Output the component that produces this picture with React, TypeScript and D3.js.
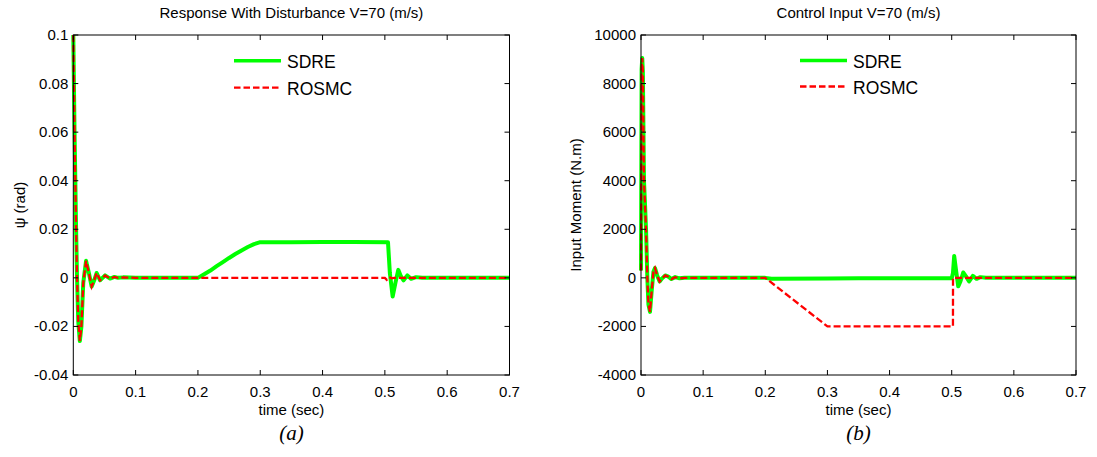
import React from "react";
import * as d3 from "d3";

// ---------- Data ----------
const TIME_TICKS = [0, 0.1, 0.2, 0.3, 0.4, 0.5, 0.6, 0.7];
const TIME_TICK_LABELS = ["0", "0.1", "0.2", "0.3", "0.4", "0.5", "0.6", "0.7"];
const PSI_TICKS = [-0.04, -0.02, 0, 0.02, 0.04, 0.06, 0.08, 0.1];
const PSI_TICK_LABELS = ["-0.04", "-0.02", "0", "0.02", "0.04", "0.06", "0.08", "0.1"];
const MOMENT_TICKS = [-4000, -2000, 0, 2000, 4000, 6000, 8000, 10000];
const MOMENT_TICK_LABELS = ["-4000", "-2000", "0", "2000", "4000", "6000", "8000", "10000"];

// (a) psi response, SDRE
const psiSdreT = [0, 0.002, 0.0045, 0.006, 0.008, 0.0105, 0.013, 0.016, 0.0205, 0.025, 0.0295, 0.0335, 0.0375, 0.043, 0.051, 0.059, 0.066, 0.072, 0.08, 0.1, 0.2, 0.21, 0.22, 0.23, 0.24, 0.25, 0.26, 0.27, 0.28, 0.29, 0.3, 0.35, 0.4, 0.45, 0.505, 0.508, 0.5125, 0.517, 0.5215, 0.526, 0.53, 0.536, 0.542, 0.55, 0.56, 0.6, 0.65, 0.7];
const psiSdreV = [0.1, 0.06, 0.02, 0, -0.018, -0.026, -0.02, -0.002, 0.007, 0.002, -0.0036, -0.001, 0.002, -0.001, 0.001, -0.0003, 0.0004, 0, 0.0002, 0, 0, 0.0015, 0.003, 0.0048, 0.0065, 0.0082, 0.0098, 0.0113, 0.0127, 0.0139, 0.0147, 0.0147, 0.0148, 0.0148, 0.0147, 0.002, -0.0077, -0.002, 0.0033, 0.0005, -0.001, 0.001, -0.0004, 0.0003, 0, 0, 0, 0];
// (a) psi response, ROSMC
const psiRosmcT = [0, 0.002, 0.0045, 0.006, 0.008, 0.0105, 0.013, 0.016, 0.0205, 0.025, 0.0295, 0.0335, 0.0375, 0.043, 0.051, 0.059, 0.066, 0.072, 0.08, 0.1, 0.2, 0.3, 0.4, 0.5, 0.503, 0.507, 0.511, 0.515, 0.6, 0.7];
const psiRosmcV = [0.1, 0.06, 0.02, 0, -0.018, -0.026, -0.02, -0.002, 0.007, 0.002, -0.0036, -0.001, 0.002, -0.001, 0.001, -0.0003, 0.0004, 0, 0.0002, 0, 0, 0, 0, 0, -0.0008, 0.0003, -0.0002, 0, 0, 0];

// (b) control input, SDRE
const momSdreT = [0, 0.001, 0.002, 0.003, 0.0048, 0.0065, 0.0081, 0.0102, 0.012, 0.0145, 0.017, 0.02, 0.0225, 0.026, 0.03, 0.034, 0.039, 0.044, 0.049, 0.055, 0.062, 0.07, 0.1, 0.2, 0.21, 0.3, 0.35, 0.5, 0.502, 0.504, 0.507, 0.5105, 0.514, 0.5185, 0.523, 0.528, 0.534, 0.54, 0.546, 0.555, 0.57, 0.7];
const momSdreV = [300, 8600, 9050, 8500, 4000, 3000, 2000, 0, -1100, -1400, -600, 250, 400, 100, -150, -20, 100, 50, -50, 30, -20, 0, 0, 0, -40, -30, -20, -20, 200, 900, 300, -350, -150, 220, 60, -150, 80, -40, 30, 0, 0, 0];
// (b) control input, ROSMC
const momRosmcT = [0, 0.001, 0.002, 0.003, 0.0048, 0.0065, 0.0081, 0.0102, 0.012, 0.0145, 0.017, 0.02, 0.0225, 0.026, 0.03, 0.034, 0.039, 0.044, 0.049, 0.055, 0.062, 0.07, 0.1, 0.2, 0.3, 0.4, 0.502, 0.5021, 0.6, 0.7];
const momRosmcV = [300, 8600, 9050, 8500, 4000, 3000, 2000, 0, -1100, -1400, -600, 250, 400, 100, -150, -20, 100, 50, -50, 30, -20, 0, 0, 0, -2000, -2000, -2000, 0, 0, 0];

const SERIES_NAMES = ["SDRE", "ROSMC"];
const TITLES = ["Response With Disturbance V=70 (m/s)", "Control Input V=70 (m/s)"];
const Y_LABELS = ["\u03C8 (rad)", "Input Moment (N.m)"];
const X_LABEL = "time (sec)";
const SUB_LABELS = ["(a)", "(b)"];

const GREEN = "#00ff00";
const RED = "#ff0000";
const FONT = "'Liberation Sans', Arial, Helvetica, sans-serif";

type Pt = [number, number];
const zip = (t: number[], v: number[]): Pt[] => t.map((x, i) => [x, v[i]]);

interface PanelProps {
  x0: number; x1: number; y0: number; y1: number;
  yDomain: [number, number];
  yTicks: number[]; yTickLabels: string[];
  sdre: Pt[]; rosmc: Pt[];
  title: string; yLabel: string; yLabelX: number; sub: string;
  legendX: number; legendY: number; legendGap: number;
}

function Panel(p: PanelProps) {
  const x = d3.scaleLinear().domain([0, 0.7]).range([p.x0, p.x1]);
  const y = d3.scaleLinear().domain(p.yDomain).range([p.y1, p.y0]);
  const line = d3.line<Pt>().x((d) => x(d[0])).y((d) => y(d[1]));
  const cx = (p.x0 + p.x1) / 2;
  const cy = (p.y0 + p.y1) / 2;
  const tk = 5;
  return (
    <g fontFamily={FONT} fill="#000">
      <text x={cx} y={18} textAnchor="middle" fontSize={15}>{p.title}</text>
      <defs>
        <clipPath id={"clip" + p.sub}>
          <rect x={p.x0} y={p.y0 - 2} width={p.x1 - p.x0} height={p.y1 - p.y0 + 4} />
        </clipPath>
      </defs>
      <g clipPath={`url(#clip${p.sub})`}>
        <path d={line(p.sdre) || ""} fill="none" stroke={GREEN} strokeWidth={4} strokeLinejoin="round" />
        <path d={line(p.rosmc) || ""} fill="none" stroke={RED} strokeWidth={2.3} strokeDasharray="7,3" />
      </g>
      <rect x={p.x0} y={p.y0} width={p.x1 - p.x0} height={p.y1 - p.y0} fill="none" stroke="#000" strokeWidth={1} />
      {TIME_TICKS.map((t, i) => (
        <g key={"xt" + i}>
          <line x1={x(t)} x2={x(t)} y1={p.y1} y2={p.y1 - tk} stroke="#000" />
          <line x1={x(t)} x2={x(t)} y1={p.y0} y2={p.y0 + tk} stroke="#000" />
          <text x={x(t)} y={p.y1 + 22} textAnchor="middle" fontSize={15}>{TIME_TICK_LABELS[i]}</text>
        </g>
      ))}
      {p.yTicks.map((v, i) => (
        <g key={"yt" + i}>
          <line x1={p.x0} x2={p.x0 + tk} y1={y(v)} y2={y(v)} stroke="#000" />
          <line x1={p.x1} x2={p.x1 - tk} y1={y(v)} y2={y(v)} stroke="#000" />
          <text x={p.x0 - 5} y={y(v) + 5} textAnchor="end" fontSize={15}>{p.yTickLabels[i]}</text>
        </g>
      ))}
      <text x={cx} y={p.y1 + 40} textAnchor="middle" fontSize={15}>{X_LABEL}</text>
      <text transform={`translate(${p.yLabelX},${cy}) rotate(-90)`} textAnchor="middle" fontSize={15}>{p.yLabel}</text>
      <text x={cx} y={p.y1 + 65} textAnchor="middle" fontSize={21} fontStyle="italic" fontFamily="'Liberation Serif', 'Times New Roman', serif">{p.sub}</text>
      <line x1={p.legendX} x2={p.legendX + 47} y1={p.legendY} y2={p.legendY} stroke={GREEN} strokeWidth={3.5} />
      <text x={p.legendX + 53} y={p.legendY + 7} fontSize={17.5}>{SERIES_NAMES[0]}</text>
      <line x1={p.legendX} x2={p.legendX + 47} y1={p.legendY + p.legendGap} y2={p.legendY + p.legendGap} stroke={RED} strokeWidth={2.3} strokeDasharray="6.5,3" />
      <text x={p.legendX + 53} y={p.legendY + p.legendGap + 7} fontSize={17.5}>{SERIES_NAMES[1]}</text>
    </g>
  );
}

export default function App() {
  return (
    <svg width={1097} height={457} style={{ position: "absolute", left: 0, top: 0, background: "#fff" }}>
      <rect width={1097} height={457} fill="#fff" />
      <Panel
        x0={73.3} x1={509.5} y0={35} y1={375}
        yDomain={[-0.04, 0.1]} yTicks={PSI_TICKS} yTickLabels={PSI_TICK_LABELS}
        sdre={zip(psiSdreT, psiSdreV)} rosmc={zip(psiRosmcT, psiRosmcV)}
        title={TITLES[0]} yLabel={Y_LABELS[0]} yLabelX={25} sub={SUB_LABELS[0]}
        legendX={234} legendY={60.7} legendGap={27}
      />
      <Panel
        x0={641} x1={1076} y0={35} y1={375}
        yDomain={[-4000, 10000]} yTicks={MOMENT_TICKS} yTickLabels={MOMENT_TICK_LABELS}
        sdre={zip(momSdreT, momSdreV)} rosmc={zip(momRosmcT, momRosmcV)}
        title={TITLES[1]} yLabel={Y_LABELS[1]} yLabelX={581} sub={SUB_LABELS[1]}
        legendX={800} legendY={60.5} legendGap={26}
      />
    </svg>
  );
}
